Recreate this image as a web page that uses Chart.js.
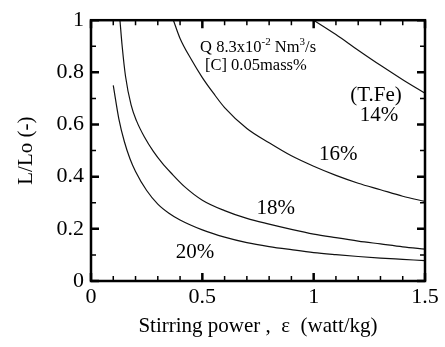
<!DOCTYPE html>
<html>
<head>
<meta charset="utf-8">
<script src="https://cdn.jsdelivr.net/npm/chart.js@4"></script>
<style>
  html, body { margin: 0; padding: 0; background: #fff; }
  #wrap { width: 445px; height: 347px; }
</style>
</head>
<body>
<div id="wrap"><canvas id="myChart" width="445" height="347"></canvas></div>
<script>
// values (stirring power in watt/kg, L/Lo)
var fe14X = [1.0, 1.1, 1.2, 1.3, 1.4, 1.5];
var fe14Y = [1.0, 0.945, 0.885, 0.827, 0.772, 0.72];

var fe16X = [0.37, 0.40, 0.45, 0.50, 0.55, 0.60, 0.70, 0.80, 0.90, 1.00, 1.10, 1.20, 1.30, 1.40, 1.50];
var fe16Y = [1.0, 0.93, 0.85, 0.78, 0.72, 0.665, 0.585, 0.53, 0.48, 0.44, 0.405, 0.375, 0.35, 0.325, 0.305];

var fe18X = [0.13, 0.14, 0.155, 0.18, 0.205, 0.24, 0.28, 0.32, 0.36, 0.42, 0.5, 0.6, 0.7, 0.8, 0.9, 1.0, 1.1, 1.2, 1.3, 1.4, 1.5];
var fe18Y = [1.0, 0.90, 0.785, 0.675, 0.613, 0.552, 0.497, 0.452, 0.414, 0.362, 0.31, 0.27, 0.24, 0.218, 0.198, 0.18, 0.166, 0.153, 0.142, 0.131, 0.122];

var fe20X = [0.10, 0.125, 0.15, 0.175, 0.2, 0.25, 0.3, 0.35, 0.4, 0.5, 0.6, 0.7, 0.8, 0.9, 1.0, 1.1, 1.2, 1.3, 1.4, 1.5];
var fe20Y = [0.75, 0.622, 0.534, 0.469, 0.42, 0.347, 0.295, 0.26, 0.234, 0.196, 0.168, 0.147, 0.132, 0.12, 0.109, 0.101, 0.094, 0.088, 0.083, 0.078];

var curveLabels = ['14%', '16%', '18%', '20%'];
var xTitle = 'Stirring power ,  \u03b5  (watt/kg)';
var yTitle = 'L/Lo (-)';

var serif = "'Liberation Serif', 'DejaVu Serif', serif";

function toPoints(xs, ys) {
    var pts = [];
    for (var i = 0; i < xs.length; i++) {
        pts.push({ x: xs[i], y: ys[i] });
    }
    return pts;
}

function curve(label, xs, ys) {
    return {
        label: label,
        data: toPoints(xs, ys),
        borderColor: '#111',
        borderWidth: 1.2,
        pointRadius: 0,
        cubicInterpolationMode: 'monotone',
        fill: false
    };
}

function isMultiple(v, step) {
    var r = v / step;
    return Math.abs(r - Math.round(r)) < 1e-6;
}

function fmt(v) {
    var r = Math.round(v * 10) / 10;
    return r === 0 ? '0' : String(r);
}

// frame, inward ticks on all four sides, and the text inside the plot
var framePlugin = {
    id: 'frame',
    afterDraw: function(chart) {
        var ctx = chart.ctx;
        var a = chart.chartArea;
        var xs = chart.scales.x, ys = chart.scales.y;
        ctx.save();
        ctx.strokeStyle = '#000';

        // ticks
        xs.ticks.forEach(function(t) {
            var px = xs.getPixelForValue(t.value);
            var major = isMultiple(t.value, 0.5);
            var len = major ? 8 : 5;
            ctx.lineWidth = major ? 2.5 : 1.5;
            ctx.beginPath();
            ctx.moveTo(px, a.bottom); ctx.lineTo(px, a.bottom - len);
            ctx.moveTo(px, a.top); ctx.lineTo(px, a.top + len);
            ctx.stroke();
        });
        ys.ticks.forEach(function(t) {
            var py = ys.getPixelForValue(t.value);
            var major = isMultiple(t.value, 0.2);
            var len = major ? 8 : 5;
            ctx.lineWidth = major ? 2.5 : 1.5;
            ctx.beginPath();
            ctx.moveTo(a.left, py); ctx.lineTo(a.left + len, py);
            ctx.moveTo(a.right, py); ctx.lineTo(a.right - len, py);
            ctx.stroke();
        });

        // box
        ctx.lineWidth = 2.5;
        ctx.strokeRect(a.left, a.top, a.right - a.left, a.bottom - a.top);

        // conditions text
        ctx.fillStyle = '#000';
        ctx.textBaseline = 'alphabetic';
        ctx.textAlign = 'left';
        var big = '16.5px ' + serif, small = '11px ' + serif;
        var x0 = xs.getPixelForValue(0.49), y0 = ys.getPixelForValue(0.877);
        var parts = [['Q 8.3x10', big, 0], ['-2', small, -7], [' Nm', big, 0], ['3', small, -7], ['/s', big, 0]];
        parts.forEach(function(p) {
            ctx.font = p[1];
            ctx.fillText(p[0], x0, y0 + p[2]);
            x0 += ctx.measureText(p[0]).width;
        });
        ctx.font = big;
        ctx.fillText('[C] 0.05mass%', xs.getPixelForValue(0.512), ys.getPixelForValue(0.81));

        // curve labels
        ctx.textAlign = 'center';
        ctx.font = '21px ' + serif;
        ctx.fillText('(T.Fe)', xs.getPixelForValue(1.28), ys.getPixelForValue(0.69));
        var spots = [[1.293, 0.612], [1.11, 0.463], [0.83, 0.257], [0.467, 0.09]];
        for (var i = 0; i < curveLabels.length; i++) {
            ctx.fillText(curveLabels[i], xs.getPixelForValue(spots[i][0]), ys.getPixelForValue(spots[i][1]));
        }
        ctx.restore();
    }
};

function createChart() {
    var ctx = document.getElementById('myChart').getContext('2d');
    new Chart(ctx, {
        type: 'line',
        data: {
            datasets: [
                curve(curveLabels[0], fe14X, fe14Y),
                curve(curveLabels[1], fe16X, fe16Y),
                curve(curveLabels[2], fe18X, fe18Y),
                curve(curveLabels[3], fe20X, fe20Y)
            ]
        },
        options: {
            responsive: false,
            animation: false,
            layout: { padding: { top: 13, right: 20, left: 0, bottom: 0 } },
            plugins: { legend: { display: false }, tooltip: { enabled: false } },
            scales: {
                x: {
                    type: 'linear',
                    min: 0, max: 1.5,
                    grid: { display: false, drawTicks: false },
                    border: { display: false },
                    ticks: {
                        stepSize: 0.1,
                        autoSkip: false,
                        maxRotation: 0,
                        padding: 3,
                        color: '#000',
                        font: { family: serif, size: 22 },
                        callback: function(v) { return isMultiple(v, 0.5) ? fmt(v) : ''; }
                    },
                    title: {
                        display: true,
                        text: xTitle,
                        color: '#000',
                        font: { family: serif, size: 21 },
                        padding: { top: 0, bottom: 8 }
                    },
                    afterFit: function(s) { s.height = 66; }
                },
                y: {
                    type: 'linear',
                    min: 0, max: 1,
                    grid: { display: false, drawTicks: false },
                    border: { display: false },
                    ticks: {
                        stepSize: 0.1,
                        autoSkip: false,
                        padding: 7,
                        color: '#000',
                        font: { family: serif, size: 22 },
                        callback: function(v) { return isMultiple(v, 0.2) ? fmt(v) : ''; }
                    },
                    title: {
                        display: true,
                        text: yTitle,
                        color: '#000',
                        font: { family: serif, size: 21 },
                        padding: { top: 14, bottom: 0 }
                    },
                    afterFit: function(s) { s.width = 91; }
                }
            }
        },
        plugins: [framePlugin]
    });
}

document.addEventListener('DOMContentLoaded', function() {
    createChart();
});
</script>
</body>
</html>
